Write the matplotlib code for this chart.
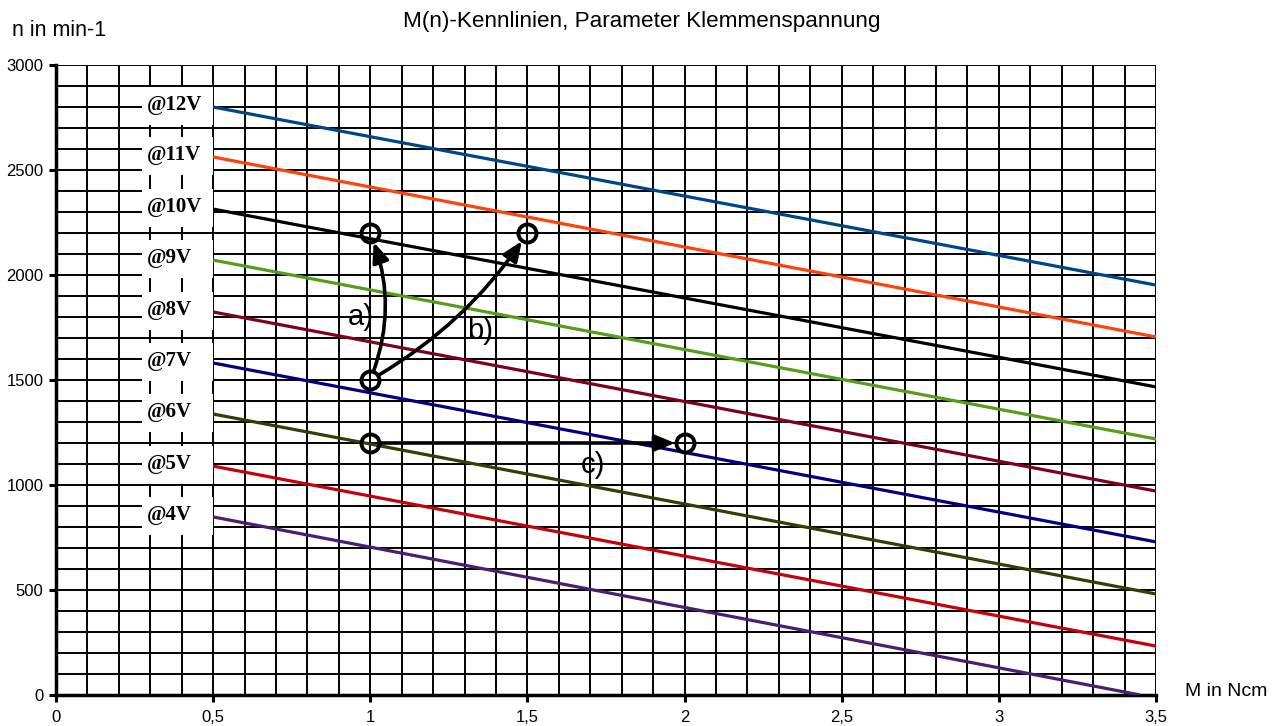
import matplotlib.pyplot as plt
from matplotlib.patches import FancyArrowPatch, Rectangle
from matplotlib.ticker import MultipleLocator, FixedLocator, FixedFormatter

plt.rcParams['font.family'] = ['Liberation Sans', 'DejaVu Sans']

# Kennlinien: start/end points (M in Ncm, n in min-1)
voltage_labels = ['@12V', '@11V', '@10V', '@9V', '@8V', '@7V', '@6V', '@5V', '@4V']
m_start = [0.5, 0.5, 0.5, 0.5, 0.5, 0.5, 0.5, 0.5, 0.5]
m_end = [3.5, 3.5, 3.5, 3.5, 3.5, 3.5, 3.5, 3.5, 3.45]
n_start = [2800, 2562, 2314, 2071, 1824, 1581, 1338, 1090, 848]
n_end = [1952, 1705, 1467, 1219, 971, 729, 481, 233, 0]
line_colors = ['#004586', '#ff420e', '#000000', '#579d1c', '#7e0021',
               '#000080', '#314004', '#c5000b', '#4b1f6f']

# operating points (circles)
point_m = [1.0, 1.5, 1.0, 1.0, 2.0]
point_n = [2200, 2200, 1500, 1200, 1200]

# arrows: (from point, to point, curvature, label, label pos)
arrow_from = [2, 2, 3]
arrow_to = [0, 1, 4]
arrow_rad = [0.2, 0.12, 0.0]
arrow_text = ['a)', 'b)', 'c)']
arrow_text_m = [0.97, 1.35, 1.71]
arrow_text_n = [1800, 1735, 1095]

x_ticks = [0, 0.5, 1, 1.5, 2, 2.5, 3, 3.5]
x_tick_labels = ['0', '0,5', '1', '1,5', '2', '2,5', '3', '3,5']
y_ticks = [0, 500, 1000, 1500, 2000, 2500, 3000]

fig = plt.figure(figsize=(12.76, 7.26), dpi=100)
ax = fig.add_axes([56 / 1276, 31 / 726, 1100 / 1276, 630 / 726])

ax.set_xlim(0, 3.5)
ax.set_ylim(0, 3000)
ax.xaxis.set_major_locator(FixedLocator(x_ticks))
ax.xaxis.set_major_formatter(FixedFormatter(x_tick_labels))
ax.xaxis.set_minor_locator(MultipleLocator(0.1))
ax.yaxis.set_major_locator(FixedLocator(y_ticks))
ax.yaxis.set_minor_locator(MultipleLocator(100))
ax.grid(True, which='both', color='black', linewidth=1.4, zorder=0)
ax.set_axisbelow(True)
ax.tick_params(which='major', direction='out', length=5, width=2.2, labelsize=12, pad=4)
ax.tick_params(axis='x', which='major', pad=6)
ax.tick_params(which='minor', length=0)
for sp in ['top', 'right']:
    ax.spines[sp].set_visible(False)
for sp in ['left', 'bottom']:
    ax.spines[sp].set_linewidth(2.5)

for lab, x0, x1, y0, y1, c in zip(voltage_labels, m_start, m_end, n_start, n_end, line_colors):
    ax.plot([x0, x1], [y0, y1], color=c, lw=2.3, zorder=3, solid_capstyle='butt')
    ax.add_patch(Rectangle((0.275, y0 - 85), 0.225, 180, facecolor='white',
                           edgecolor='none', zorder=2))
    ax.text(0.29, y0 + 10, lab, ha='left', va='center', fontsize=15,
            fontweight='bold', family='Liberation Serif', zorder=4)

for i, j, rad in zip(arrow_from, arrow_to, arrow_rad):
    arr = FancyArrowPatch((point_m[i], point_n[i]), (point_m[j], point_n[j]),
                          connectionstyle=f'arc3,rad={rad}',
                          arrowstyle='-|>,head_length=12,head_width=5',
                          color='black', lw=2.6, shrinkA=7, shrinkB=7, zorder=5)
    ax.add_patch(arr)

ax.plot(point_m, point_n, 'o', ms=13, mfc='none', mec='black', mew=2.8, zorder=6)

for t, x, y in zip(arrow_text, arrow_text_m, arrow_text_n):
    ax.text(x, y, t, ha='center', va='center', fontsize=21, zorder=6)

fig.text(642 / 1276, 1 - 22 / 726, 'M(n)-Kennlinien, Parameter Klemmenspannung',
         ha='center', va='center', fontsize=16.2)
fig.text(12 / 1276, 1 - 30 / 726, 'n in min-1', ha='left', va='center', fontsize=15.5)
fig.text(1185 / 1276, 1 - 692 / 726, 'M in Ncm', ha='left', va='center', fontsize=14)

fig.savefig('out.png', dpi=100)
